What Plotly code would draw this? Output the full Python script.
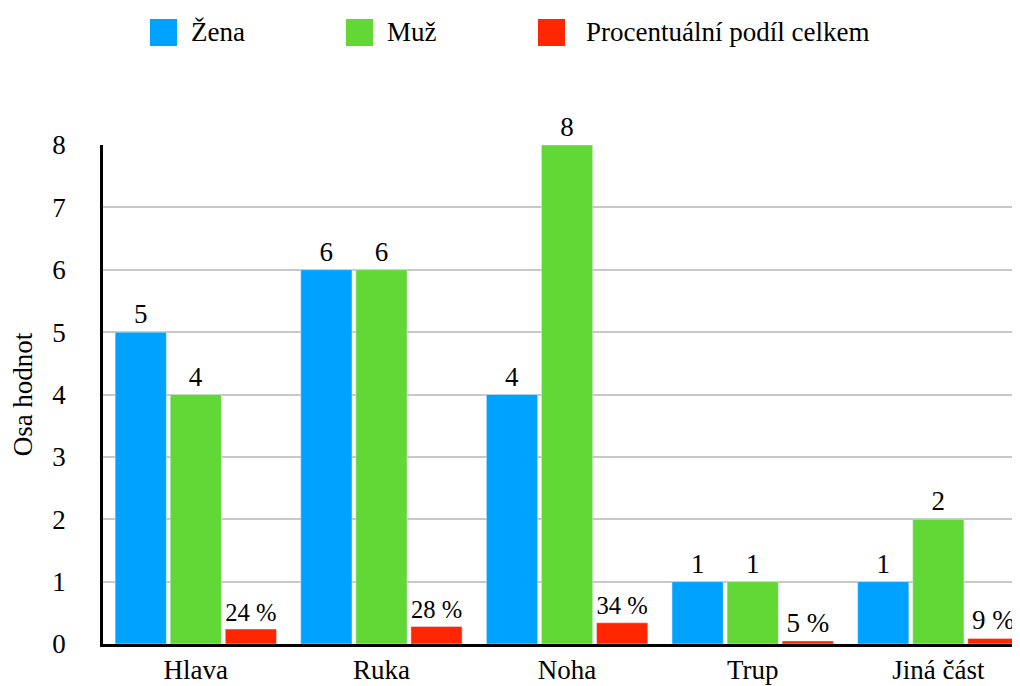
import plotly.graph_objects as go

CATEGORIES = ["Hlava", "Ruka", "Noha", "Trup", "Jiná část"]
ZENA = [5, 6, 4, 1, 1]
MUZ = [4, 6, 8, 1, 2]
PODIL = [0.24, 0.28, 0.34, 0.05, 0.09]
SERIES_NAMES = ["Žena", "Muž", "Procentuální podíl celkem"]
COLORS = ["#00A2FF", "#61D836", "#FF2600"]

FONT = "Liberation Serif"
FS = 27
OFF = 8  # page body margin
W, H = 1020 - OFF, 686 - OFF
ML, MR, MT, MB = 103 - OFF, 0, 145 - OFF, 42


def px_to_paper(x, y):
    # x, y given in window pixels
    x -= OFF
    y -= OFF
    return (x - ML) / (W - ML - MR), (H - MB - y) / (H - MT - MB)


fig = go.Figure()
series = [ZENA, MUZ, PODIL]
labels = [
    [str(v) for v in ZENA],
    [str(v) for v in MUZ],
    [f"{round(v * 100)} %" for v in PODIL],
]
for name, vals, txt, col in zip(SERIES_NAMES, series, labels, COLORS):
    fig.add_trace(
        go.Bar(
            x=CATEGORIES,
            y=vals,
            name=name,
            text=txt,
            textposition="outside",
            textfont=dict(size=FS, color="#000000", family=FONT),
            marker=dict(color=col),
            cliponaxis=False,
            showlegend=False,
        )
    )

# legend drawn by hand to get the large square swatches
legend_items = [(150, 189), (346, 385), (538, 584)]
for (sx, tx), name, col in zip(legend_items, SERIES_NAMES, COLORS):
    x0, y0 = px_to_paper(sx, 19)
    x1, y1 = px_to_paper(sx + 27, 46)
    fig.add_shape(
        type="rect", xref="paper", yref="paper",
        x0=x0, x1=x1, y0=y1, y1=y0,
        fillcolor=col, line=dict(width=0),
    )
    ax, ay = px_to_paper(tx, 32)
    fig.add_annotation(
        text=name, xref="paper", yref="paper", x=ax, y=ay,
        xanchor="left", yanchor="middle", showarrow=False,
        font=dict(size=FS, color="#000000", family=FONT),
    )

fig.update_layout(
    width=W,
    height=H,
    margin=dict(l=ML, r=MR, t=MT, b=MB),
    paper_bgcolor="white",
    plot_bgcolor="white",
    font=dict(family=FONT, size=FS, color="#000000"),
    barmode="group",
    bargap=0.11,
    bargroupgap=0.07,
)
fig.update_xaxes(
    range=[-0.5, 4.44],
    showline=True, linecolor="#000000", linewidth=2.5,
    showgrid=False,
    tickfont=dict(size=FS, family=FONT, color="#000000"),
)
fig.update_yaxes(
    range=[0, 8], dtick=1,
    showline=True, linecolor="#000000", linewidth=2.5,
    showgrid=True, gridcolor="#C8C8C8", gridwidth=1.5,
    zeroline=False,
    ticks="outside", ticklen=29, tickcolor="rgba(0,0,0,0)",
    tickfont=dict(size=FS, family=FONT, color="#000000"),
    title=dict(text="Osa hodnot", font=dict(size=FS, family=FONT, color="#000000")),
)

fig.write_html("out.html")
